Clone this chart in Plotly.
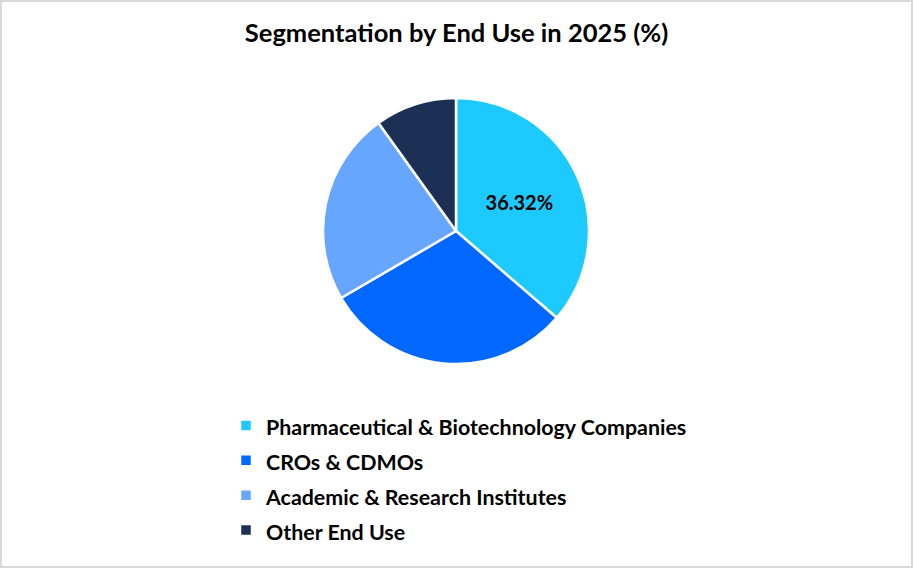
import plotly.graph_objects as go

categories = [
    "Pharmaceutical & Biotechnology Companies",
    "CROs & CDMOs",
    "Academic & Research Institutes",
    "Other End Use",
]
shares = [36.32, 30.28, 23.50, 9.90]
slice_labels = ["36.32%", "", "", ""]
colors = ["#1DCAFF", "#0068FF", "#66A6FF", "#1C2F55"]

legend_names = [f"<span style='font-size:21.4px'>{c}</span>" for c in categories]

fig = go.Figure(
    go.Pie(
        labels=legend_names,
        values=shares,
        text=slice_labels,
        textinfo="text",
        textposition="inside",
        insidetextorientation="horizontal",
        textfont=dict(family="Lato", size=20, color="#000000", weight="bold"),
        sort=False,
        direction="clockwise",
        rotation=0,
        marker=dict(colors=colors, line=dict(color="#FFFFFF", width=2.5)),
        domain=dict(x=[323 / 913, 589 / 913], y=[1 - 364 / 568, 1 - 98 / 568]),
        hoverinfo="skip",
    )
)

fig.update_layout(
    width=913,
    height=568,
    margin=dict(l=0, r=0, t=0, b=0),
    paper_bgcolor="#FFFFFF",
    plot_bgcolor="#FFFFFF",
    title=dict(
        text="<b>Segmentation by End Use in 2025 (%)</b>",
        x=0.5,
        xanchor="center",
        y=1 - 33 / 568,
        yanchor="middle",
        font=dict(family="Lato", size=25.5, color="#000000"),
    ),
    showlegend=True,
    legend=dict(
        x=226 / 913,
        xanchor="left",
        y=1 - 403 / 568,
        yanchor="top",
        font=dict(family="Lato", size=24.5, color="#000000", weight="bold"),
        bgcolor="rgba(0,0,0,0)",
        traceorder="normal",
    ),
    shapes=[
        dict(
            type="rect", xref="paper", yref="paper",
            x0=0, y0=0, x1=1, y1=1,
            line=dict(color="#D9D9D9", width=4),
            fillcolor="rgba(0,0,0,0)",
        )
    ],
)

fig.write_html(
    "out.html",
    config={"displayModeBar": False},
    post_script="document.body.style.margin='0';document.body.style.padding='0';",
)
